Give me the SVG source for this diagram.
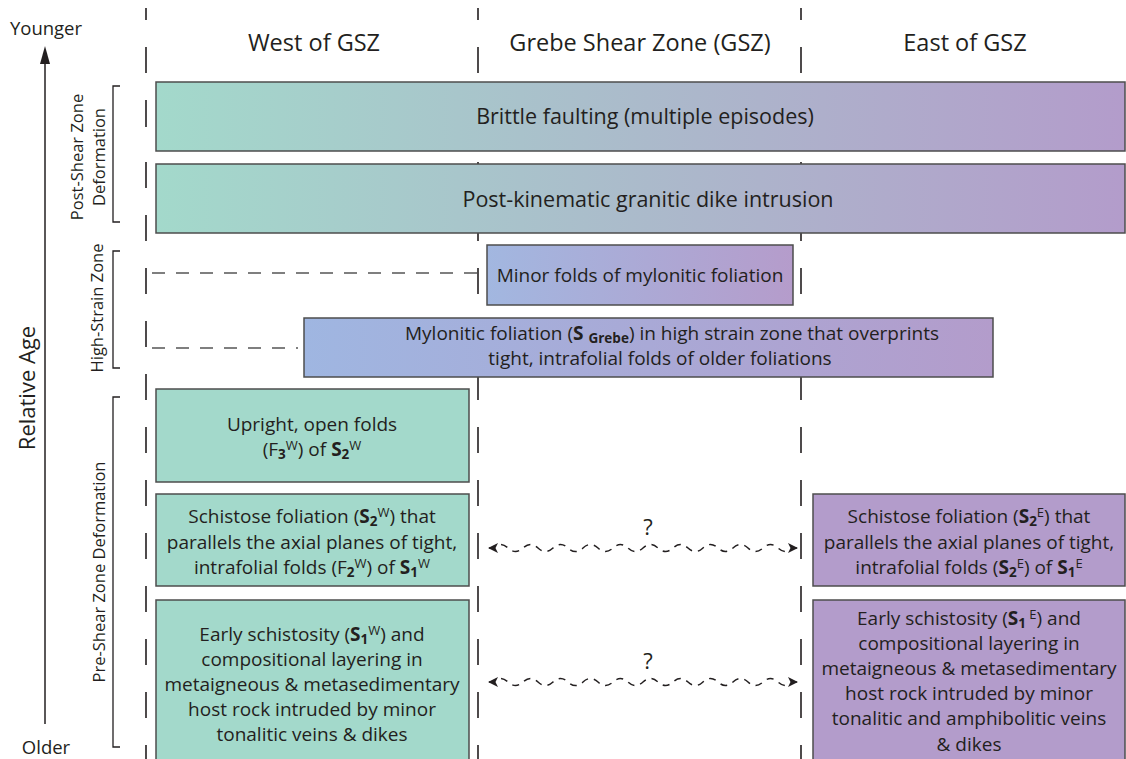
<svg xmlns="http://www.w3.org/2000/svg" width="1126" height="759" viewBox="0 0 1126 759">
<defs>
<linearGradient id="gWide" gradientUnits="userSpaceOnUse" x1="156" y1="0" x2="1125" y2="0">
<stop offset="0" stop-color="#a3d9cb"/><stop offset="1" stop-color="#b39ccb"/>
</linearGradient>
<linearGradient id="gMinor" gradientUnits="userSpaceOnUse" x1="487" y1="0" x2="793" y2="0">
<stop offset="0" stop-color="#a2b7e0"/><stop offset="1" stop-color="#b59ccb"/>
</linearGradient>
<linearGradient id="gMylo" gradientUnits="userSpaceOnUse" x1="304" y1="0" x2="993" y2="0">
<stop offset="0" stop-color="#9fb6e1"/><stop offset="1" stop-color="#b39ccb"/>
</linearGradient>
<marker id="ah" viewBox="0 0 10 10" refX="9" refY="5" markerWidth="11" markerHeight="10" markerUnits="userSpaceOnUse" orient="auto-start-reverse">
<path d="M0,0 L10,5 L0,10 L2.5,5 Z" fill="#231f20"/>
</marker>
<style>
text{font-family:"Open Sans","Noto Sans",sans-serif;fill:#231f20}
.hdr{font-size:23.5px;text-anchor:middle}
.big{font-size:21.5px;text-anchor:middle}
.bx{font-size:19px;text-anchor:middle}
.side{font-size:16.5px;text-anchor:middle}
.box{stroke:#4d4d4d;stroke-width:1.5}
.w{fill:#a3d9cb}
.e{fill:#b39ccb}
.b{font-weight:bold}
.sub{font-size:13.5px;font-weight:bold}
.sup{font-size:13px}
.col{stroke:#231f20;stroke-width:1.6;fill:none}
.dash{stroke-dasharray:26 27}
.brk{stroke:#231f20;stroke-width:1.3;fill:none}
.hd{stroke:#555;stroke-width:1.3;stroke-dasharray:13 11;fill:none}
.wave{stroke:#231f20;stroke-width:1.5;stroke-dasharray:7 6;fill:none}
</style>
</defs>

<g id="columns">
<path class="col" d="M146,8 V20 M146,47 V73 M146,100 V127 M478,8 V20 M478,47 V73 M478,100 V127 M801,8 V20 M801,47 V73 M801,100 V127"/>
<line class="col dash" x1="146" y1="162" x2="146" y2="759"/>
<line class="col dash" x1="478" y1="162" x2="478" y2="759"/>
<line class="col dash" x1="801" y1="162" x2="801" y2="759"/>
</g>

<g id="axis">
<text x="46" y="35" style="font-size:18.5px;text-anchor:middle">Younger</text>
<text x="46" y="754" style="font-size:18.5px;text-anchor:middle">Older</text>
<line x1="45" y1="724" x2="45" y2="60" stroke="#231f20" stroke-width="1.5"/>
<path d="M45,46 L40,64 L50,64 Z" fill="#231f20"/>
<text transform="translate(35,388) rotate(-90)" style="font-size:22px;text-anchor:middle">Relative Age</text>
</g>

<g id="brackets">
<path class="brk" d="M120,86 H113 V222 H120"/>
<path class="brk" d="M120,251 H113 V368 H120"/>
<path class="brk" d="M120,397 H113 V747 H120"/>
<text class="side" transform="translate(83,157) rotate(-90)">Post-Shear Zone</text>
<text class="side" transform="translate(105,157) rotate(-90)">Deformation</text>
<text class="side" transform="translate(103,308) rotate(-90)">High-Strain Zone</text>
<text class="side" transform="translate(105,572) rotate(-90)">Pre-Shear Zone Deformation</text>
</g>

<g id="headers">
<text class="hdr" x="314" y="51">West of GSZ</text>
<text class="hdr" x="640" y="51">Grebe Shear Zone (GSZ)</text>
<text class="hdr" x="965" y="51">East of GSZ</text>
</g>

<g id="connectors">
<line class="hd" x1="152" y1="273" x2="478" y2="273"/>
<line class="hd" x1="152" y1="348" x2="298" y2="348"/>
<path class="wave" marker-start="url(#ah)" marker-end="url(#ah)" d="M489,548 h4 q7.5,-7 15,0 t15,0 t15,0 t15,0 t15,0 t15,0 t15,0 t15,0 t15,0 t15,0 t15,0 t15,0 t15,0 t15,0 t15,0 t15,0 t15,0 t15,0 t15,0 t15,0 h4"/>
<path class="wave" marker-start="url(#ah)" marker-end="url(#ah)" d="M489,682 h4 q7.5,-7 15,0 t15,0 t15,0 t15,0 t15,0 t15,0 t15,0 t15,0 t15,0 t15,0 t15,0 t15,0 t15,0 t15,0 t15,0 t15,0 t15,0 t15,0 t15,0 t15,0 h4"/>
<text x="648" y="535" style="font-size:22px;text-anchor:middle">?</text>
<text x="648" y="669" style="font-size:22px;text-anchor:middle">?</text>
</g>

<g id="brittle">
<rect class="box" x="156" y="82" width="969" height="69" fill="url(#gWide)"/>
<text class="big" x="645" y="124">Brittle faulting (multiple episodes)</text>
</g>

<g id="dike">
<rect class="box" x="156" y="164" width="969" height="69" fill="url(#gWide)"/>
<text class="big" x="648" y="207">Post-kinematic granitic dike intrusion</text>
</g>

<g id="minor-folds">
<rect class="box" x="487" y="245" width="306" height="60" fill="url(#gMinor)"/>
<text class="bx" x="640" y="282">Minor folds of mylonitic foliation</text>
</g>

<g id="mylonitic">
<rect class="box" x="304" y="318" width="689" height="59" fill="url(#gMylo)"/>
<text class="bx" x="672" y="340">Mylonitic foliation (<tspan class="b">S </tspan><tspan class="sub" baseline-shift="-3">Grebe</tspan>) in high strain zone that overprints</text>
<text class="bx" x="660" y="365">tight, intrafolial folds of older foliations</text>
</g>

<g id="upright-w">
<rect class="box w" x="156" y="389" width="313" height="93"/>
<text class="bx" x="312" y="431">Upright, open folds</text>
<text class="bx" x="312" y="456">(F<tspan class="sub" baseline-shift="-3">3</tspan><tspan class="sup" baseline-shift="6">W</tspan>) of <tspan class="b">S</tspan><tspan class="sub" baseline-shift="-3">2</tspan><tspan class="sup" baseline-shift="6">W</tspan></text>
</g>

<g id="schistose-w">
<rect class="box w" x="156" y="494" width="313" height="92"/>
<text class="bx" x="312" y="523">Schistose foliation (<tspan class="b">S</tspan><tspan class="sub" baseline-shift="-3">2</tspan><tspan class="sup" baseline-shift="6">W</tspan>) that</text>
<text class="bx" x="312" y="549">parallels the axial planes of tight,</text>
<text class="bx" x="312" y="574">intrafolial folds (F<tspan class="sub" baseline-shift="-3">2</tspan><tspan class="sup" baseline-shift="6">W</tspan>) of <tspan class="b">S</tspan><tspan class="sub" baseline-shift="-3">1</tspan><tspan class="sup" baseline-shift="6">W</tspan></text>
</g>

<g id="early-w">
<rect class="box w" x="156" y="600" width="313" height="165"/>
<text class="bx" x="312" y="641">Early schistosity (<tspan class="b">S</tspan><tspan class="sub" baseline-shift="-3">1</tspan><tspan class="sup" baseline-shift="6">W</tspan>) and</text>
<text class="bx" x="312" y="666">compositional layering in</text>
<text class="bx" x="312" y="691">metaigneous &amp; metasedimentary</text>
<text class="bx" x="312" y="716">host rock intruded by minor</text>
<text class="bx" x="312" y="741">tonalitic veins &amp; dikes</text>
</g>

<g id="schistose-e">
<rect class="box e" x="813" y="494" width="312" height="92"/>
<text class="bx" x="969" y="523">Schistose foliation (<tspan class="b">S</tspan><tspan class="sub" baseline-shift="-3">2</tspan><tspan class="sup" baseline-shift="6">E</tspan>) that</text>
<text class="bx" x="969" y="549">parallels the axial planes of tight,</text>
<text class="bx" x="969" y="574">intrafolial folds (<tspan class="b">S</tspan><tspan class="sub" baseline-shift="-3">2</tspan><tspan class="sup" baseline-shift="6">E</tspan>) of <tspan class="b">S</tspan><tspan class="sub" baseline-shift="-3">1</tspan><tspan class="sup" baseline-shift="6">E</tspan></text>
</g>

<g id="early-e">
<rect class="box e" x="813" y="600" width="312" height="165"/>
<text class="bx" x="969" y="625">Early schistosity (<tspan class="b">S</tspan><tspan class="sub" baseline-shift="-3">1</tspan><tspan class="sup" baseline-shift="6"> E</tspan>) and</text>
<text class="bx" x="969" y="650">compositional layering in</text>
<text class="bx" x="969" y="675">metaigneous &amp; metasedimentary</text>
<text class="bx" x="969" y="700">host rock intruded by minor</text>
<text class="bx" x="969" y="725">tonalitic and amphibolitic veins</text>
<text class="bx" x="969" y="751">&amp; dikes</text>
</g>
</svg>
